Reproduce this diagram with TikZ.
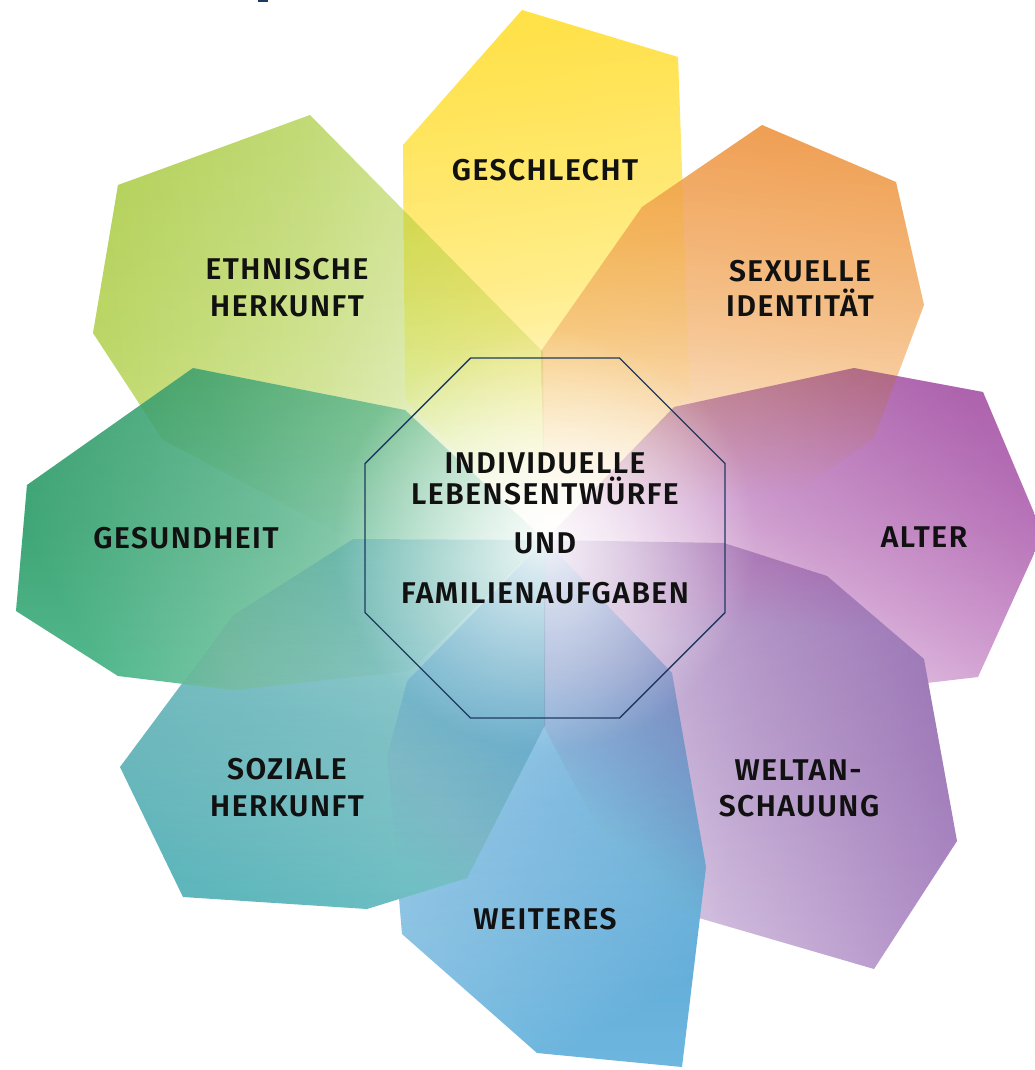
\documentclass[tikz,border=0pt]{standalone}
\usepackage{fontspec}
\usetikzlibrary{fadings}
\newfontfamily\labfont{Fira Sans}[UprightFont={* SemiBold},LetterSpace=5]
\definecolor{cyel}{HTML}{FFED76}
\definecolor{cora}{HTML}{F6C182}
\definecolor{calt}{HTML}{CA8ECA}
\definecolor{cwel}{HTML}{B594CA}
\definecolor{cwei}{HTML}{6EB7DF}
\definecolor{csoz}{HTML}{62BABF}
\definecolor{cges}{HTML}{57BB91}
\definecolor{ceth}{HTML}{CCE17F}
\definecolor{navy}{HTML}{1F3A60}
\definecolor{ink}{HTML}{111111}
\tikzfading[name=glowfade, inner color=transparent!10, outer color=transparent!100]
\begin{document}
\begin{tikzpicture}[x=1pt,y=1pt,
  petal/.style={blend mode=darken, top color=#1, bottom color=white, middle color=#1!58!white,
    postaction={shade, blend mode=multiply, opacity=0.7, top color=#1, bottom color=white, middle color=#1!58!white}},
  lab/.style={font=\labfont\fontsize{30}{30}\selectfont, text=ink, inner sep=0pt, anchor=base},
  octo/.style={draw=navy, line width=1.4pt, line join=miter}]
\useasboundingbox (0,0) rectangle (1034,-1070);
\coordinate (C) at (545,-540);
% petals
\shade[petal=cyel, shading angle=12] (C) -- (405,-400) -- (403,-145) -- (522,-10) -- (678,-57) -- (690,-395) -- cycle;
\shade[petal=cora, shading angle=-10] (C) -- (541,-351) -- (642,-207) -- (762,-125) -- (896,-182) -- (924,-305) -- (874,-438) -- (730,-540) -- cycle;
\shade[petal=calt, shading angle=-60] (C) -- (674,-407) -- (854,-368) -- (983,-392) -- (1043,-534) -- (978,-677) -- (927,-683) -- (784,-692) -- (672,-673) -- cycle;
\shade[petal=cwel, shading angle=-100] (C) -- (724,-543) -- (827,-576) -- (924,-659) -- (957,-841) -- (874,-969) -- (699,-918) -- (634,-899) -- (544,-727) -- cycle;
\shade[petal=cwei, shading angle=-150] (C) -- (672,-673) -- (706,-867) -- (682,-1067) -- (537,-1053) -- (402,-934) -- (387,-755) -- (407,-681) -- cycle;
\shade[petal=csoz, shading angle=165] (C) -- (545,-725) -- (467,-878) -- (367,-909) -- (183,-897) -- (120,-767) -- (233,-615) -- (353,-539) -- cycle;
\shade[petal=cges, shading angle=120] (C) -- (410,-671) -- (233,-690) -- (118,-676) -- (16,-611) -- (27,-485) -- (193,-368) -- (405,-410) -- cycle;
\shade[petal=ceth, shading angle=95] (C) -- (353,-540) -- (163,-440) -- (93,-333) -- (118,-185) -- (310,-115) -- (543,-352) -- cycle;
% white glow in the centre
\fill[white, path fading=glowfade] (C) circle (210);
% small mark at top
\fill[navy] (258,0) rectangle (268,-2.5);
% octagon
\draw[octo] (470.5,-358) -- (619.5,-358) -- (725,-463.5) -- (725,-612.5) -- (619.5,-718) -- (470.5,-718) -- (365,-612.5) -- (365,-463.5) -- cycle;
% labels
\node[lab] (l1) at (545,-180) {GESCHLECHT};
\node[lab] (l2a) at (287,-279) {ETHNISCHE};
\node[lab] (l2b) at (287,-316) {HERKUNFT};
\node[lab] (l3a) at (800,-281) {SEXUELLE};
\node[lab] (l3b) at (800,-316) {IDENTITÄT};
\node[lab] (l4) at (186,-548) {GESUNDHEIT};
\node[lab] (l5) at (924,-547) {ALTER};
\node[lab] (l6a) at (287,-779) {SOZIALE};
\node[lab] (l6b) at (287,-816) {HERKUNFT};
\node[lab] (l7a) at (798,-780) {WELTAN-};
\node[lab] (l7b) at (799,-816) {SCHAUUNG};
\node[lab] (l8) at (545,-929) {WEITERES};
\node[lab] (c1) at (545,-473) {INDIVIDUELLE};
\node[lab] (c2) at (545,-504) {LEBENSENTWÜRFE};
\node[lab] (c3) at (545,-553) {UND};
\node[lab] (c4) at (545,-603) {FAMILIENAUFGABEN};
\end{tikzpicture}
\end{document}
